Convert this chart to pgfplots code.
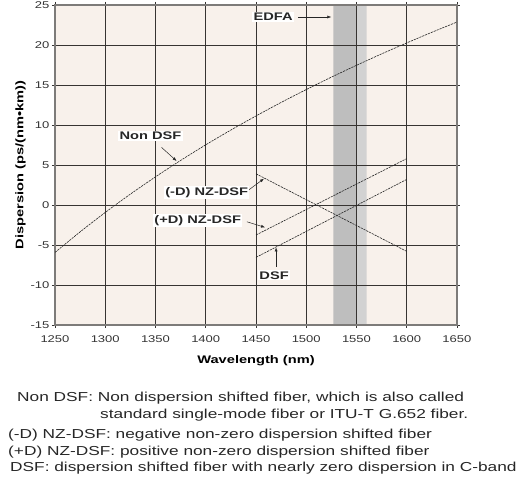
\documentclass[border=0pt]{standalone}
\usepackage{pgfplots}
\pgfplotsset{compat=1.18}
\usepackage{fontspec}
\setmainfont{Liberation Sans}[FakeStretch=1.33]
\usetikzlibrary{arrows.meta}
\definecolor{bgc}{RGB}{248,241,235}
\definecolor{banddark}{RGB}{190,190,190}
\definecolor{bandlight}{RGB}{210,210,210}
\definecolor{gridc}{RGB}{55,52,50}
\definecolor{framec}{RGB}{125,123,121}
\begin{document}
\begin{tikzpicture}
\pgfplotsset{set layers}
\begin{axis}[
  scale only axis, width=402pt, height=320pt,
  xmin=1250, xmax=1650, ymin=-15, ymax=25,
  xtick={1250,1300,...,1650}, ytick={-15,-10,...,25},
  grid=major,
  major grid style={draw=gridc, line width=0.9pt},
  axis line style={draw=framec, line width=1.4pt},
  tick align=outside, major tick length=3pt,
  tick style={draw=gridc, line width=0.8pt},
  /pgf/number format/assume math mode=true,
  /pgf/number format/set thousands separator={},
  tick label style={font=\fontsize{9.8}{11}\selectfont, text=black!80},
  xticklabel style={yshift=-4pt},
  yticklabel style={xshift=1pt},
  xlabel={\bfseries Wavelength (nm)},
  ylabel={\bfseries Dispersion (ps/(nm\textbullet km))},
  label style={font=\fontsize{11}{12}\selectfont},
  xlabel style={yshift=-6pt},
  ylabel style={yshift=-2pt},
]
% background and EDFA band
\addplot[on layer=axis background, draw=none, fill=bgc] coordinates {(1250,-15) (1650,-15) (1650,25) (1250,25) (1250,-15)};
\addplot[on layer=axis background, draw=none, fill=banddark] coordinates {(1527,-15) (1550,-15) (1550,25) (1527,25) (1527,-15)};
\addplot[on layer=axis background, draw=none, fill=bandlight] coordinates {(1550,-15) (1560,-15) (1560,25) (1550,25) (1550,-15)};
% Non DSF
\addplot[black!85, line width=0.6pt, dash pattern=on 2.2pt off 0.9pt, smooth] coordinates {
(1250,-5.93) (1275,-3.36) (1300,-0.93) (1325,1.36) (1350,3.52) (1375,5.57) (1400,7.52)
(1425,9.37) (1450,11.13) (1475,12.82) (1500,14.43) (1525,15.98) (1550,17.46) (1575,18.89)
(1600,20.26) (1625,21.59) (1650,22.87)};
% (-D) NZ-DSF
\addplot[black!85, line width=0.6pt, dash pattern=on 2.2pt off 0.9pt] coordinates {(1450,3.9) (1600,-5.8)};
% (+D) NZ-DSF
\addplot[black!85, line width=0.6pt, dash pattern=on 2.2pt off 0.9pt] coordinates {(1450,-3.75) (1600,5.8)};
% DSF
\addplot[black!85, line width=0.6pt, dash pattern=on 2.2pt off 0.9pt] coordinates {(1450,-6.55) (1600,3.2)};
% annotations
\tikzset{lab/.style={fill=white, inner sep=1.2pt, font=\fontsize{11}{12}\selectfont\bfseries, text=black!85},
         arr/.style={-{Latex[length=4pt,width=3pt]}, line width=0.5pt, black!85}}
\draw[arr] (axis cs:1492,23.5) -- (axis cs:1525,23.5);
\node[lab] at (axis cs:1467,23.5) {EDFA};
\draw[arr] (axis cs:1356,7.2) -- (axis cs:1371,5.5);
\node[lab] at (axis cs:1345,8.6) {Non DSF};
\draw[arr] (axis cs:1443,1.9) -- (axis cs:1458,3.3);
\node[lab] at (axis cs:1401,1.6) {(-D) NZ-DSF};
\draw[arr] (axis cs:1441,-2.1) -- (axis cs:1459,-2.8);
\node[lab] at (axis cs:1392,-1.9) {(+D) NZ-DSF};
\draw[arr] (axis cs:1470,-7.7) -- (axis cs:1470,-5.3);
\node[lab] at (axis cs:1468,-8.8) {DSF};
\end{axis}
\begin{scope}[every node/.style={anchor=west, inner sep=0pt, font=\fontsize{13}{15}\selectfont, text=black!85}]
\node at (-38pt,-73pt) {Non DSF: Non dispersion shifted fiber, which is also called};
\node at (45pt,-90pt) {standard single-mode fiber or ITU-T G.652 fiber.};
\node at (-47pt,-110pt) {(-D) NZ-DSF: negative non-zero dispersion shifted fiber};
\node at (-47pt,-127pt) {(+D) NZ-DSF: positive non-zero dispersion shifted fiber};
\node at (-45pt,-143pt) {DSF: dispersion shifted fiber with nearly zero dispersion in C-band};
\end{scope}
\pgfresetboundingbox
\useasboundingbox (-55pt,-159pt) rectangle (468pt,325pt);
\end{tikzpicture}
\end{document}
